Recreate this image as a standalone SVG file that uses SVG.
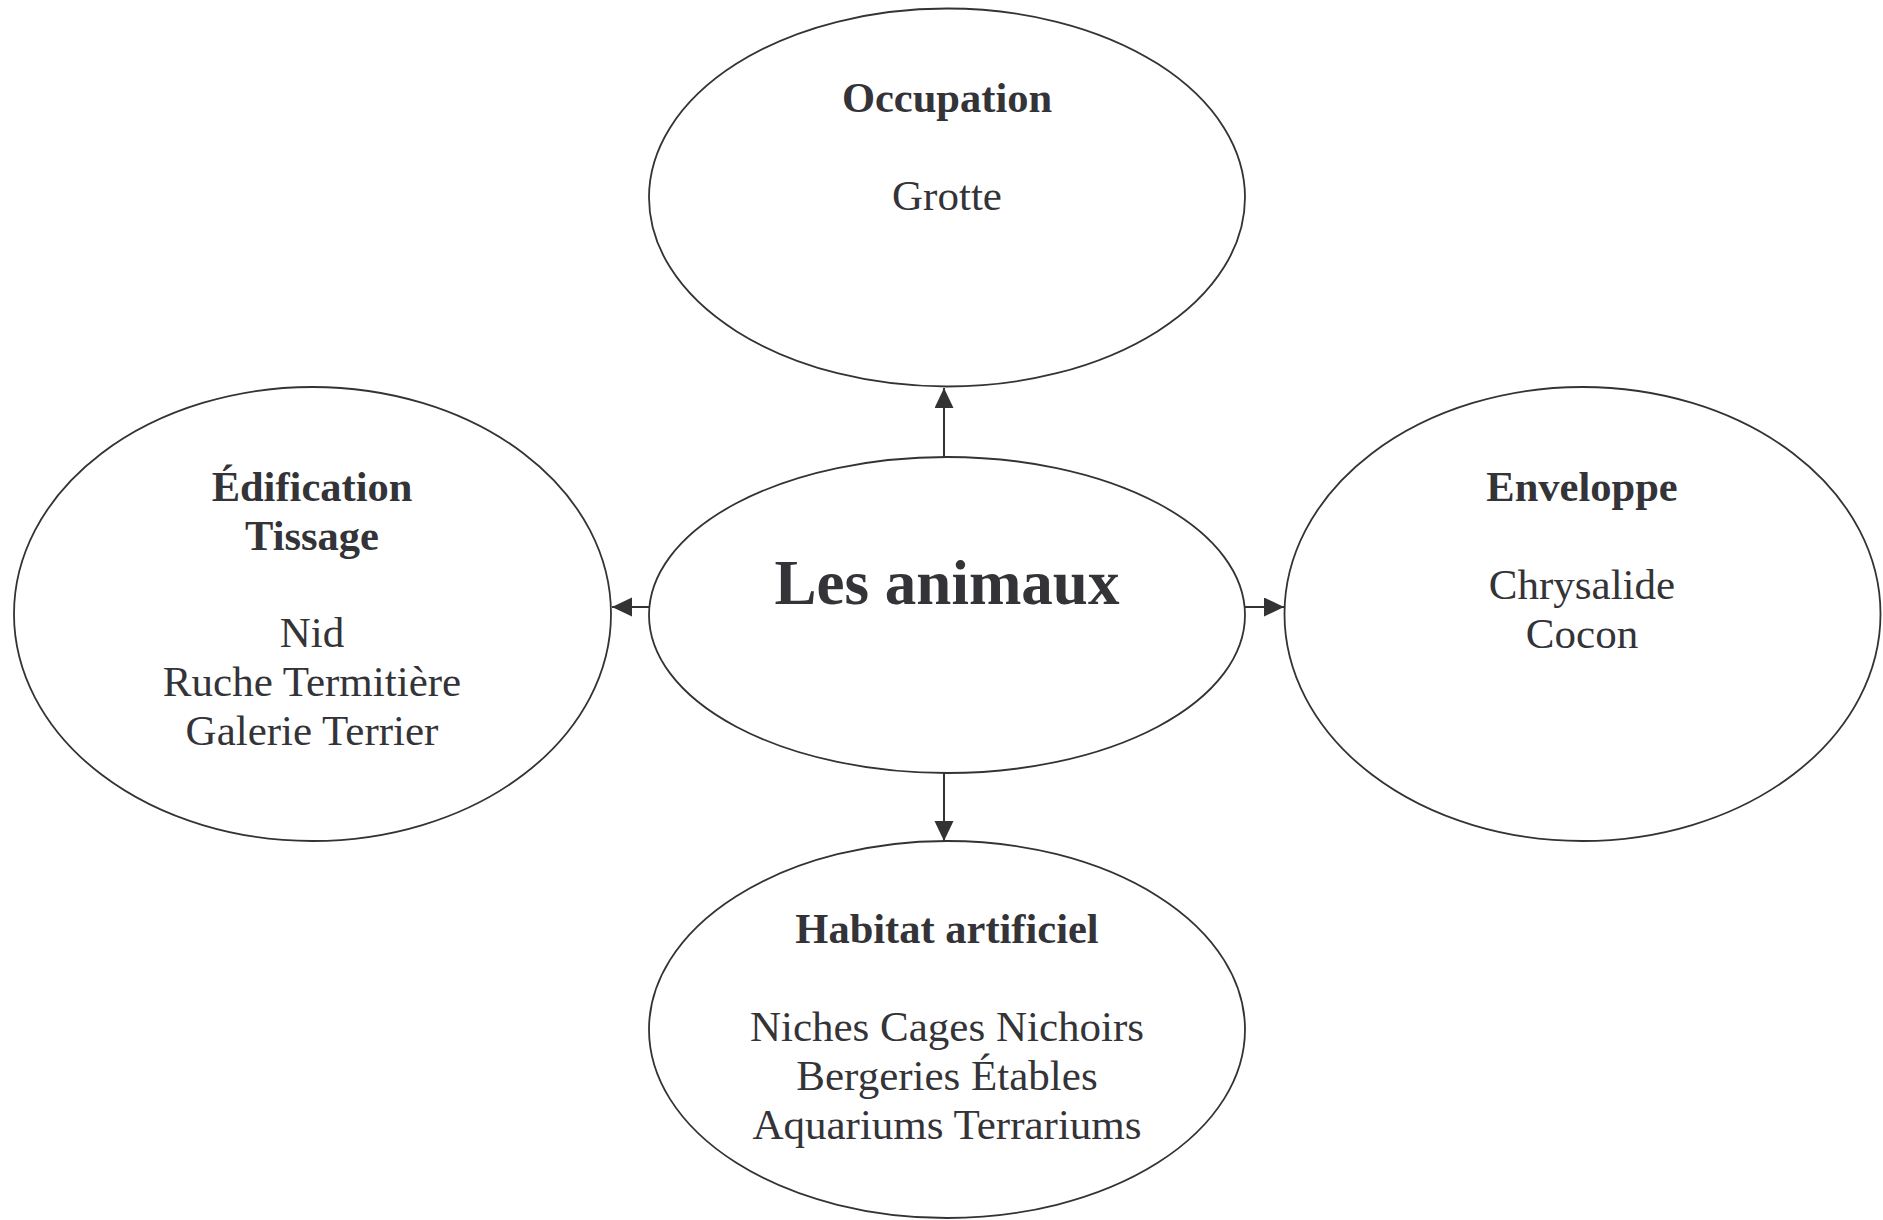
<svg xmlns="http://www.w3.org/2000/svg" width="1883" height="1220" viewBox="0 0 1883 1220">
  <style>
    .node ellipse { fill: #ffffff; stroke: #333336; stroke-width: 1.8; }
    text { font-family: "Liberation Serif", "Times New Roman", serif; fill: #333338; text-anchor: middle; font-size: 43px; }
    .title { font-weight: bold; font-size: 42.5px; }
    .main { font-weight: bold; font-size: 63px; }
    .conn line { stroke: #333336; stroke-width: 2; }
  </style>
  <defs>
    <marker id="arrow" markerUnits="userSpaceOnUse" markerWidth="21" markerHeight="20" refX="20" refY="9.5" orient="auto">
      <path d="M0,0 L20,9.5 L0,19 Z" fill="#333336"/>
    </marker>
  </defs>
  <rect width="1883" height="1220" fill="#ffffff"/>

  <!-- connectors from the central node -->
  <g id="connectors" class="conn">
    <line x1="944" y1="457" x2="944" y2="388" marker-end="url(#arrow)"/>
    <line x1="649" y1="607" x2="612" y2="607" marker-end="url(#arrow)"/>
    <line x1="1245" y1="607" x2="1284" y2="607" marker-end="url(#arrow)"/>
    <line x1="944" y1="773" x2="944" y2="841" marker-end="url(#arrow)"/>
  </g>

  <g id="node-occupation" class="node">
    <ellipse cx="947" cy="197.5" rx="298" ry="189"/>
    <text class="title" x="947" y="112">Occupation</text>
    <text x="947" y="210">Grotte</text>
  </g>

  <g id="node-center" class="node">
    <ellipse cx="947" cy="615" rx="298" ry="158"/>
    <text class="main" x="947" y="604">Les animaux</text>
  </g>

  <g id="node-edification" class="node">
    <ellipse cx="312.5" cy="614" rx="298.5" ry="227"/>
    <text class="title" x="312" y="501">Édification</text>
    <text class="title" x="312" y="550">Tissage</text>
    <text x="312" y="647">Nid</text>
    <text x="312" y="696">Ruche Termitière</text>
    <text x="312" y="745">Galerie Terrier</text>
  </g>

  <g id="node-enveloppe" class="node">
    <ellipse cx="1582.5" cy="614" rx="298" ry="227"/>
    <text class="title" x="1582" y="501">Enveloppe</text>
    <text x="1582" y="599">Chrysalide</text>
    <text x="1582" y="648">Cocon</text>
  </g>

  <g id="node-habitat" class="node">
    <ellipse cx="947" cy="1029.5" rx="298" ry="188.5"/>
    <text class="title" x="947" y="943">Habitat artificiel</text>
    <text x="947" y="1041">Niches Cages Nichoirs</text>
    <text x="947" y="1090">Bergeries Étables</text>
    <text x="947" y="1139">Aquariums Terrariums</text>
  </g>
</svg>
